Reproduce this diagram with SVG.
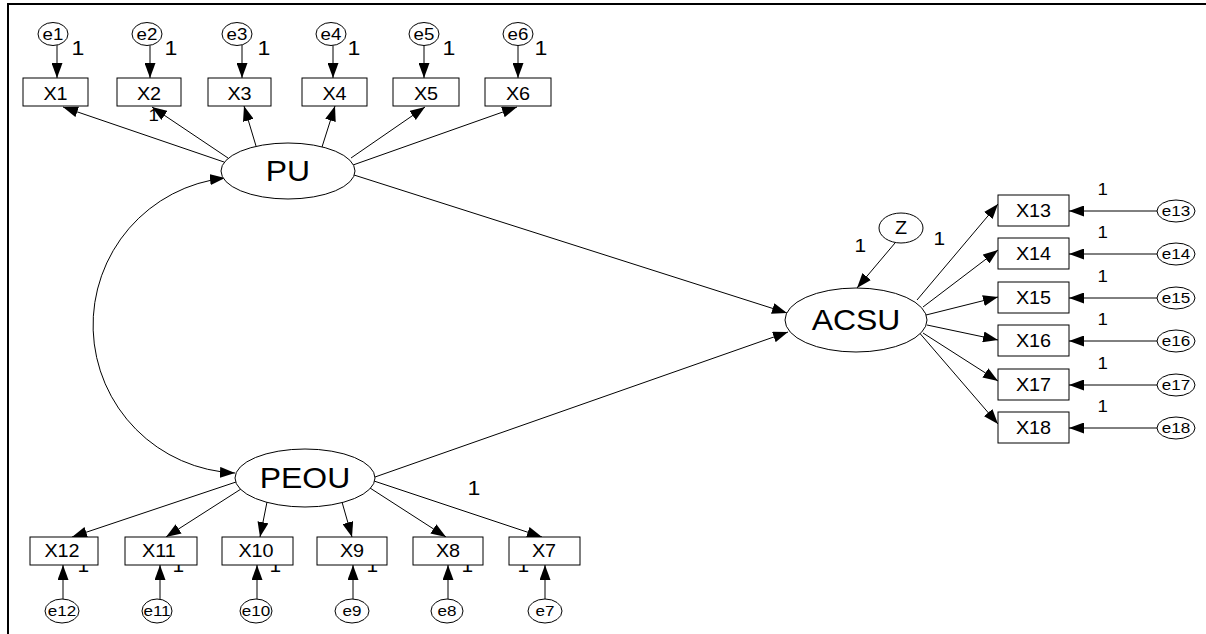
<svg xmlns="http://www.w3.org/2000/svg" width="1206" height="634" viewBox="0 0 1206 634">
<defs>
<marker id="ah" markerUnits="userSpaceOnUse" markerWidth="15" markerHeight="11" refX="15" refY="5.5" orient="auto-start-reverse">
<path d="M0,0 L15,5.5 L0,11 z" fill="#000"/>
</marker>
<style>
.box{fill:#fff;stroke:#000;stroke-width:1}
.el{fill:#fff;stroke:#000;stroke-width:1}
.cn line,.cn path{stroke:#000;stroke-width:1;fill:none;marker-end:url(#ah)}
.frame{stroke:#000;stroke-width:2;fill:none}
text{font-family:"Liberation Sans",Arial,sans-serif;fill:#000;transform-box:fill-box;transform-origin:center;transform:scaleX(1.1)}
.lbl{font-size:18px;text-anchor:middle}
.lat{font-size:29px;text-anchor:middle}
.err{font-size:17px;text-anchor:middle}
.errs{font-size:15.5px;text-anchor:middle}
.z{font-size:18px;text-anchor:middle}
.w20{font-size:21px}
.w18{font-size:19px}
.w16{font-size:17px}
</style>
</defs>
<rect width="1206" height="634" fill="#fff"/>
<g id="frame">
<path class="frame" d="M8,634 L8,4 L1206,4"/>
</g>
<g id="connectors" class="cn">
<line x1="57" y1="45" x2="57" y2="78"/>
<line x1="150" y1="45" x2="150" y2="78"/>
<line x1="242" y1="45" x2="242" y2="78"/>
<line x1="333" y1="45" x2="333" y2="78"/>
<line x1="424" y1="45" x2="424" y2="78"/>
<line x1="518" y1="45" x2="518" y2="78"/>
<line x1="224" y1="162" x2="63" y2="107"/>
<line x1="228" y1="158" x2="152" y2="107"/>
<line x1="256" y1="146" x2="244" y2="106"/>
<line x1="322" y1="147" x2="335" y2="106"/>
<line x1="351" y1="158" x2="425" y2="107"/>
<line x1="353" y1="165" x2="517" y2="107"/>
<line x1="354" y1="175" x2="787" y2="313"/>
<line x1="375" y1="477" x2="788" y2="332"/>
<line x1="895" y1="243" x2="857" y2="288"/>
<path d="M225,178 A148,148 0 0 0 235,473" style="marker-start:url(#ah)"/>
<line x1="917" y1="300" x2="998" y2="204"/>
<line x1="923" y1="307" x2="998" y2="250"/>
<line x1="926" y1="315" x2="998" y2="297"/>
<line x1="927" y1="325" x2="998" y2="340"/>
<line x1="923" y1="333" x2="998" y2="381"/>
<line x1="917" y1="330" x2="998" y2="424"/>
<line x1="1157" y1="211" x2="1069" y2="211"/>
<line x1="1157" y1="254" x2="1069" y2="254"/>
<line x1="1157" y1="298" x2="1069" y2="298"/>
<line x1="1157" y1="341" x2="1069" y2="341"/>
<line x1="1157" y1="385" x2="1069" y2="385"/>
<line x1="1157" y1="428" x2="1069" y2="428"/>
<line x1="236" y1="482" x2="72" y2="537"/>
<line x1="241" y1="489" x2="166" y2="537"/>
<line x1="267" y1="502" x2="260" y2="537"/>
<line x1="342" y1="502" x2="352" y2="537"/>
<line x1="370" y1="488" x2="446" y2="537"/>
<line x1="374" y1="481" x2="542" y2="537"/>
<line x1="63" y1="599" x2="63" y2="565"/>
<line x1="160" y1="599" x2="160" y2="565"/>
<line x1="257" y1="599" x2="257" y2="565"/>
<line x1="353" y1="599" x2="353" y2="565"/>
<line x1="448" y1="599" x2="448" y2="565"/>
<line x1="545" y1="599" x2="545" y2="565"/>
</g>
<g id="labels">
<text class="w20" x="72" y="55">1</text>
<text class="w20" x="165" y="55">1</text>
<text class="w20" x="258" y="55">1</text>
<text class="w20" x="348" y="55">1</text>
<text class="w20" x="443" y="55">1</text>
<text class="w20" x="535" y="55">1</text>
<text class="w16" x="149" y="121">1</text>
<text class="w18" x="855" y="252">1</text>
<text class="w18" x="934" y="245">1</text>
<text class="w16" x="1098" y="195">1</text>
<text class="w16" x="1098" y="238">1</text>
<text class="w16" x="1098" y="282">1</text>
<text class="w16" x="1098" y="325">1</text>
<text class="w16" x="1098" y="369">1</text>
<text class="w16" x="1098" y="412">1</text>
<text class="w20" x="468" y="495">1</text>
<text class="w18" x="78" y="572">1</text>
<text class="w18" x="173" y="572">1</text>
<text class="w18" x="270" y="572">1</text>
<text class="w18" x="367" y="572">1</text>
<text class="w18" x="462" y="572">1</text>
<text class="w18" x="518" y="572">1</text>
</g>
<g id="e1"><ellipse class="el" cx="53" cy="34" rx="15" ry="11.5"/><text class="err" x="53" y="40">e1</text></g>
<g id="e2"><ellipse class="el" cx="147" cy="34" rx="15" ry="11.5"/><text class="err" x="147" y="40">e2</text></g>
<g id="e3"><ellipse class="el" cx="237" cy="34" rx="15" ry="11.5"/><text class="err" x="237" y="40">e3</text></g>
<g id="e4"><ellipse class="el" cx="331" cy="34" rx="15" ry="11.5"/><text class="err" x="331" y="40">e4</text></g>
<g id="e5"><ellipse class="el" cx="424" cy="34" rx="15" ry="11.5"/><text class="err" x="424" y="40">e5</text></g>
<g id="e6"><ellipse class="el" cx="518" cy="34" rx="15" ry="11.5"/><text class="err" x="518" y="40">e6</text></g>
<g id="X1"><rect class="box" x="23" y="78" width="65" height="28"/><text class="lbl" x="55.5" y="100">X1</text></g>
<g id="X2"><rect class="box" x="117" y="78" width="64" height="28"/><text class="lbl" x="149" y="100">X2</text></g>
<g id="X3"><rect class="box" x="208" y="78" width="63" height="28"/><text class="lbl" x="239.5" y="100">X3</text></g>
<g id="X4"><rect class="box" x="302" y="78" width="65" height="28"/><text class="lbl" x="334.5" y="100">X4</text></g>
<g id="X5"><rect class="box" x="393" y="78" width="66" height="28"/><text class="lbl" x="426" y="100">X5</text></g>
<g id="X6"><rect class="box" x="485" y="78" width="66" height="28"/><text class="lbl" x="518" y="100">X6</text></g>
<g id="PU"><ellipse class="el" cx="288" cy="171" rx="67" ry="28"/><text class="lat" x="288" y="181">PU</text></g>
<g id="PEOU"><ellipse class="el" cx="305" cy="478" rx="70" ry="29"/><text class="lat" x="305" y="488">PEOU</text></g>
<g id="ACSU"><ellipse class="el" cx="856" cy="320" rx="71" ry="32"/><text class="lat" x="856" y="330">ACSU</text></g>
<g id="Z"><ellipse class="el" cx="901" cy="228" rx="22" ry="15"/><text class="z" x="901" y="234">Z</text></g>
<g id="X13"><rect class="box" x="998" y="195" width="71" height="31"/><text class="lbl" x="1033.5" y="217">X13</text></g>
<g id="X14"><rect class="box" x="998" y="238" width="71" height="31"/><text class="lbl" x="1033.5" y="260">X14</text></g>
<g id="X15"><rect class="box" x="998" y="282" width="71" height="31"/><text class="lbl" x="1033.5" y="304">X15</text></g>
<g id="X16"><rect class="box" x="998" y="325" width="71" height="31"/><text class="lbl" x="1033.5" y="347">X16</text></g>
<g id="X17"><rect class="box" x="998" y="369" width="71" height="31"/><text class="lbl" x="1033.5" y="391">X17</text></g>
<g id="X18"><rect class="box" x="998" y="412" width="71" height="31"/><text class="lbl" x="1033.5" y="434">X18</text></g>
<g id="e13"><ellipse class="el" cx="1176" cy="211" rx="19" ry="11"/><text class="errs" x="1176" y="216.5">e13</text></g>
<g id="e14"><ellipse class="el" cx="1176" cy="254" rx="19" ry="11"/><text class="errs" x="1176" y="259.5">e14</text></g>
<g id="e15"><ellipse class="el" cx="1176" cy="298" rx="19" ry="11"/><text class="errs" x="1176" y="303.5">e15</text></g>
<g id="e16"><ellipse class="el" cx="1176" cy="341" rx="19" ry="11"/><text class="errs" x="1176" y="346.5">e16</text></g>
<g id="e17"><ellipse class="el" cx="1176" cy="385" rx="19" ry="11"/><text class="errs" x="1176" y="390.5">e17</text></g>
<g id="e18"><ellipse class="el" cx="1176" cy="428" rx="19" ry="11"/><text class="errs" x="1176" y="433.5">e18</text></g>
<g id="X12"><rect class="box" x="30" y="537" width="68" height="28"/><text class="lbl" x="62" y="557">X12</text></g>
<g id="X11"><rect class="box" x="125" y="537" width="72" height="28"/><text class="lbl" x="159" y="557">X11</text></g>
<g id="X10"><rect class="box" x="222" y="537" width="71" height="28"/><text class="lbl" x="256" y="557">X10</text></g>
<g id="X9"><rect class="box" x="317" y="537" width="70" height="28"/><text class="lbl" x="352" y="557">X9</text></g>
<g id="X8"><rect class="box" x="413" y="537" width="70" height="28"/><text class="lbl" x="448" y="557">X8</text></g>
<g id="X7"><rect class="box" x="509" y="537" width="71" height="28"/><text class="lbl" x="544" y="557">X7</text></g>
<g id="e12"><ellipse class="el" cx="62" cy="611" rx="17" ry="12"/><text class="errs" x="62" y="616.5">e12</text></g>
<g id="e11"><ellipse class="el" cx="157" cy="611" rx="15" ry="12"/><text class="errs" x="157" y="616.5">e11</text></g>
<g id="e10"><ellipse class="el" cx="256" cy="611" rx="16" ry="12"/><text class="errs" x="256" y="616.5">e10</text></g>
<g id="e9"><ellipse class="el" cx="352" cy="611" rx="17" ry="12"/><text class="errs" x="352" y="616.5">e9</text></g>
<g id="e8"><ellipse class="el" cx="447" cy="611" rx="16" ry="12"/><text class="errs" x="447" y="616.5">e8</text></g>
<g id="e7"><ellipse class="el" cx="545" cy="611" rx="17" ry="12"/><text class="errs" x="545" y="616.5">e7</text></g>
</svg>
